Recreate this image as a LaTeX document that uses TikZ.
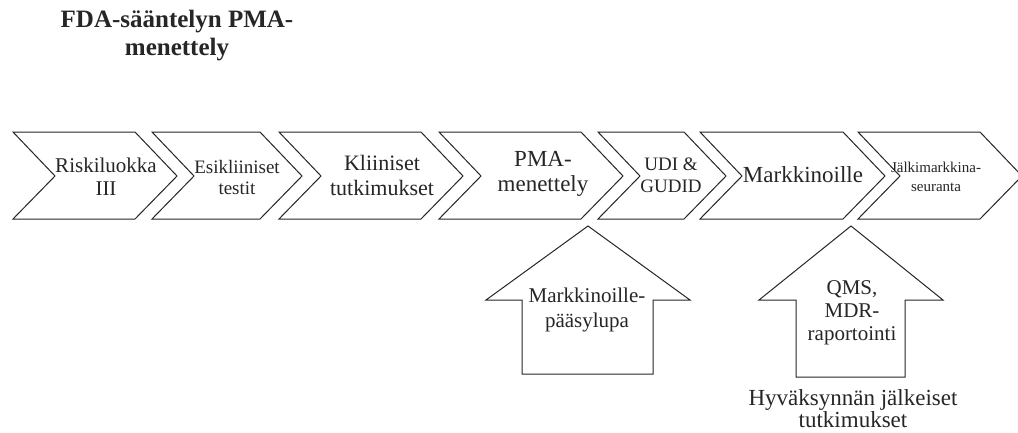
\documentclass[tikz,border=0pt]{standalone}
\usepackage{fontspec}
\setmainfont{Liberation Serif}
\newcommand\fs[2]{\fontsize{#1}{#2}\selectfont}
% chevron from left edge #1 to tip #2
\newcommand\mychev[2]{\draw[shp] (#1,132) -- ({#2-42},132) -- (#2,176) -- ({#2-42},219) -- (#1,219) -- ({#1+42},176) -- cycle;}
\begin{document}
\begin{tikzpicture}[x=1pt,y=-1pt,
  shp/.style={draw=black!85, fill=white, line width=1pt, line join=miter},
  txt/.style={align=center, inner sep=0pt, text=black!85}]
\clip (0,0) rectangle (1018,432);
\fill[white] (0,0) rectangle (1018,432);
% title
\node[txt, font=\bfseries\fs{25}{28}] (title) at (177,36) {FDA-sääntelyn PMA-\\menettely};
% chevrons
\mychev{13}{177}
\mychev{152}{302}
\mychev{279}{463}
\mychev{439}{623}
\mychev{598}{726}
\mychev{700}{885}
\mychev{858}{1022}
\node[txt, font=\fs{21}{23}] (t1) at (106,177) {Riskiluokka\\III};
\node[txt, font=\fs{19}{21}] (t2) at (237,177) {Esikliiniset\\testit};
\node[txt, font=\fs{22}{25}] (t3) at (382,175) {Kliiniset\\tutkimukset};
\node[txt, font=\fs{23}{25}] (t4) at (543,174) {PMA-\\menettely};
\node[txt, font=\fs{19}{22}] (t5) at (671,175) {UDI \&\\GUDID};
\node[txt, font=\fs{23}{25}] (t6) at (803,175) {Markkinoille};
\node[txt, font=\fs{15}{19}] (t7) at (936,177) {Jälkimarkkina-\\seuranta};
% up arrows
\draw[shp] (588,226) -- (690,300) -- (653,300) -- (653,374) -- (522,374) -- (522,300) -- (486,300) -- cycle;
\draw[shp] (851,226) -- (943,300) -- (905,300) -- (905,377) -- (796,377) -- (796,300) -- (759,300) -- cycle;
\node[txt, font=\fs{21}{25}] (a1t) at (587,310) {Markkinoille-\\pääsylupa};
\node[txt, font=\fs{21}{23}] (a2t) at (852,313) {QMS,\\MDR-\\raportointi};
\node[txt, font=\fs{23}{22}] (note) at (853,409) {Hyväksynnän jälkeiset\\tutkimukset};
\end{tikzpicture}
\end{document}
